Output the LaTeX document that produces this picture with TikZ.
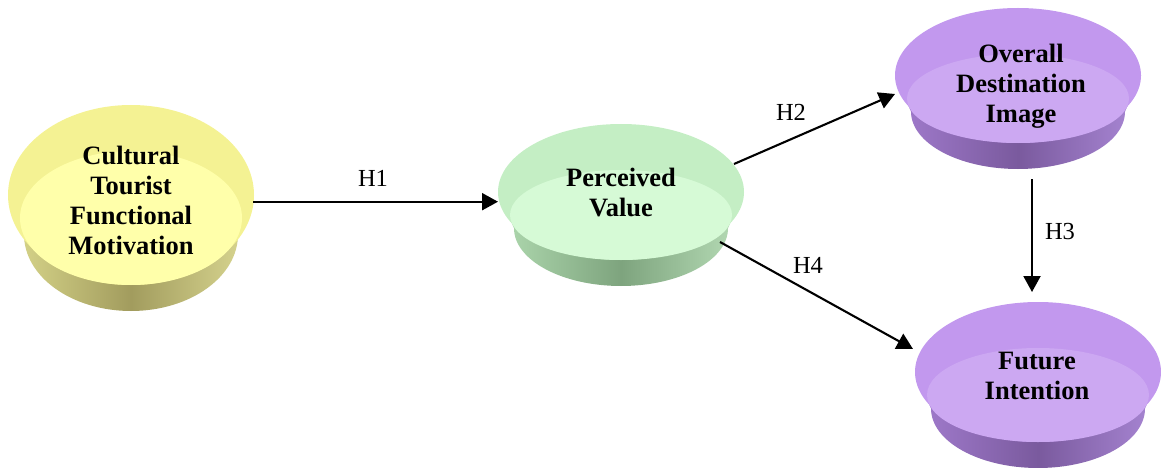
\documentclass[tikz,border=0pt]{standalone}
\usepackage{fontspec}
\setmainfont{Liberation Serif}
\usetikzlibrary{arrows.meta}

% palette for the three disc colours
\definecolor{tubytop}{HTML}{F4F293}
\definecolor{tubyin}{HTML}{FFFFAA}
\definecolor{tubyl}{HTML}{DAD88C}
\definecolor{tubym}{HTML}{A29C5E}
\definecolor{tubyr}{HTML}{DCDA94}
\definecolor{tubgtop}{HTML}{C4EEC4}
\definecolor{tubgin}{HTML}{D6FAD6}
\definecolor{tubgl}{HTML}{B0DAB0}
\definecolor{tubgm}{HTML}{7EA47E}
\definecolor{tubgr}{HTML}{B8DEB8}
\definecolor{tubptop}{HTML}{C298EE}
\definecolor{tubpin}{HTML}{CCA8F2}
\definecolor{tubpl}{HTML}{A27CCE}
\definecolor{tubpm}{HTML}{7A5A9E}
\definecolor{tubpr}{HTML}{AA88D6}

% a shallow tub: top ellipse with a lighter dish, tapered shaded side
% #1 cx, #2 cy, #3 ry of the top face, #4 colour prefix
\newcommand\drawtub[4]{%
  \pgfmathsetmacro\tubryb{0.85*#3}%
  \pgfmathsetmacro\tubh{#3+26-\tubryb}%
  \shade[left color=tub#4l, right color=tub#4r, middle color=tub#4m]
    ({#1-123},#2) -- ({#1-107},{#2+\tubh})
    arc[start angle=180, end angle=0, x radius=107, y radius=\tubryb]
    -- ({#1+123},#2) -- cycle;
  \fill[color=tub#4top] (#1,#2) ellipse[x radius=123, y radius=#3];
  \fill[color=tub#4in] (#1,{#2+23}) ellipse[x radius=111, y radius={#3-23}];
}

\tikzset{
  disctext/.style={font=\bfseries\fontsize{26.5}{30}\selectfont, align=center,
    inner sep=0pt},
  hyp/.style={font=\fontsize{24.5}{28}\selectfont, inner sep=0pt},
  link/.style={line width=2.1pt, -{Triangle[length=16pt, width=17pt]}},
}

\begin{document}
\begin{tikzpicture}[x=1pt, y=-1pt]
  \useasboundingbox (0,0) rectangle (1161,468);

  \drawtub{131}{195}{90}{y}
  \drawtub{621}{192}{68}{g}
  \drawtub{1018}{75.5}{67.5}{p}
  \drawtub{1038}{372}{70}{p}

  \node[disctext] (ctfm) at (131,200) {Cultural\\Tourist\\Functional\\Motivation};
  \node[disctext] (pv) at (621,193) {Perceived\\Value};
  \node[disctext] (odi) at (1021,86) {Overall\\Destination\\Image};
  \node[disctext] (fi) at (1037,376) {Future\\Intention};

  % connector end points on the rims
  \coordinate (h1s) at (253,201.7);
  \coordinate (h1e) at (498,201.7);
  \coordinate (h2s) at (734,164);
  \coordinate (h2e) at (895,94);
  \coordinate (h3s) at (1032,179);
  \coordinate (h3e) at (1032,292);
  \coordinate (h4s) at (720,242);
  \coordinate (h4e) at (913,349);

  \draw[link] (h1s) -- (h1e);
  \draw[link] (h2s) -- (h2e);
  \draw[link] (h3s) -- (h3e);
  \draw[link] (h4s) -- (h4e);

  \node[hyp] (lh1) at (373,178) {H1};
  \node[hyp] (lh2) at (791,112) {H2};
  \node[hyp] (lh3) at (1060,232) {H3};
  \node[hyp] (lh4) at (808,265) {H4};
\end{tikzpicture}
\end{document}
